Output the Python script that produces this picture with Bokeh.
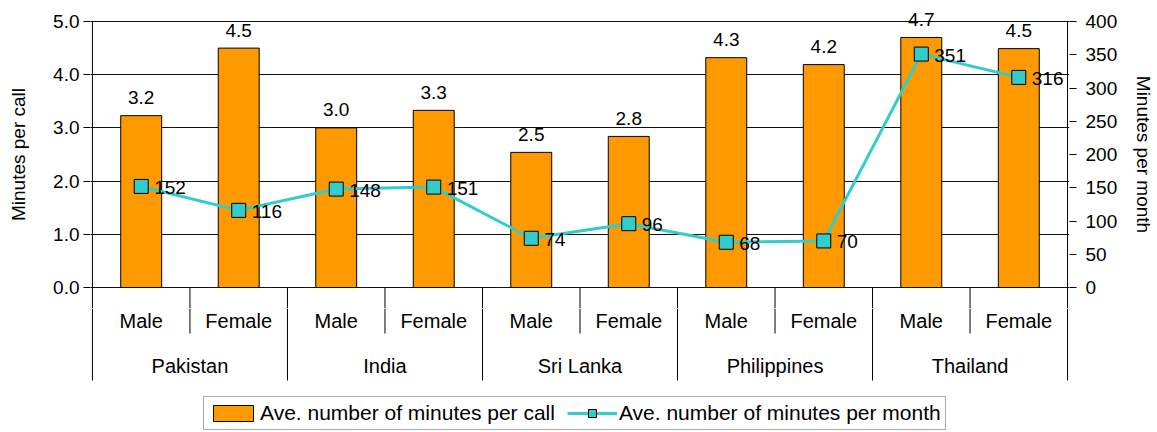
import numpy as np
from bokeh.plotting import figure
from bokeh.models import (Range1d, LinearAxis, FixedTicker, PrintfTickFormatter,
                          Legend, LegendItem)
from bokeh.layouts import column
from bokeh.embed import file_html
from bokeh.resources import INLINE
from bokeh.core.properties import value

# ---------------- data ----------------
countries = ["Pakistan", "India", "Sri Lanka", "Philippines", "Thailand"]
sexes = ["Male", "Female"]
minutes_per_call = [3.23, 4.50, 3.00, 3.33, 2.54, 2.84, 4.32, 4.19, 4.70, 4.49]
minutes_per_month = [152, 116, 148, 151, 74, 96, 68, 70, 351, 316]
left_ticks = [0, 1, 2, 3, 4, 5]
right_ticks = [0, 50, 100, 150, 200, 250, 300, 350, 400]
series_names = ["Ave. number of minutes per call", "Ave. number of minutes per month"]
axis_titles = ["Minutes per call", "Minutes per month"]

# ---------------- layout constants ----------------
FONT = "Liberation Sans"
BAR_COLOR = "#FF9900"
LINE_COLOR = "#33CCCC"
W = 1157
H1 = 308
H2 = 124
PPU = 53.2          # px per left-axis unit
ZERO_PX = 287       # y=0 position inside figure 1
TOP_PX = 21         # y=5 position inside figure 1
Y_START = -(H1 - ZERO_PX) / PPU
Y_END = left_ticks[-1] + TOP_PX / PPU
RATIO = right_ticks[-1] / left_ticks[-1]
MB_L, MB_R = 90, 87

n_groups = len(countries) * len(sexes)
xs = np.arange(n_groups) + 0.5
sex_labels = [s for c in countries for s in sexes]
country_x = np.arange(len(countries)) * len(sexes) + len(sexes) / 2
major_b = np.arange(0, n_groups + 1, len(sexes))
minor_b = np.arange(1, n_groups, len(sexes))

x_range = Range1d(-0.02, n_groups + 0.02)

# ---------------- main figure ----------------
p1 = figure(width=W, height=H1, x_range=x_range, y_range=Range1d(Y_START, Y_END),
            output_backend="svg", toolbar_location=None, x_axis_location=None,
            min_border_left=MB_L, min_border_right=MB_R, min_border_top=0, min_border_bottom=0)
p1.outline_line_color = None
p1.background_fill_color = "white"
p1.xgrid.visible = False
p1.ygrid.ticker = FixedTicker(ticks=left_ticks)
p1.ygrid.grid_line_color = "#111111"
p1.ygrid.grid_line_width = 1

la = p1.left[0]
la.ticker = FixedTicker(ticks=left_ticks)
la.formatter = PrintfTickFormatter(format="%.1f")
la.axis_line_color = None
la.major_tick_in = 0
la.major_tick_out = 7
la.major_tick_line_color = "black"
la.minor_tick_line_color = None
la.major_label_standoff = 4
la.major_label_text_font = FONT
la.major_label_text_font_size = "19px"
la.major_label_text_color = "black"
la.axis_label = axis_titles[0]
la.axis_label_text_font = FONT
la.axis_label_text_font_size = "19px"
la.axis_label_text_font_style = "normal"
la.axis_label_text_color = "black"
la.axis_label_standoff = 21

p1.extra_y_ranges = {"r": Range1d(Y_START * RATIO, Y_END * RATIO)}
ra = LinearAxis(y_range_name="r", ticker=FixedTicker(ticks=right_ticks))
ra.axis_line_color = None
ra.major_tick_in = 0
ra.major_tick_out = 7
ra.major_tick_line_color = "black"
ra.minor_tick_line_color = None
ra.major_label_standoff = 9
ra.major_label_text_font = FONT
ra.major_label_text_font_size = "19px"
ra.major_label_text_color = "black"
ra.axis_label = axis_titles[1]
ra.axis_label_text_font = FONT
ra.axis_label_text_font_size = "19px"
ra.axis_label_text_font_style = "normal"
ra.axis_label_text_color = "black"
ra.axis_label_standoff = 13
p1.add_layout(ra, "right")

# plot-area borders and category separators (upper part)
p1.segment(x0=[0, n_groups], y0=[0, 0], x1=[0, n_groups], y1=[left_ticks[-1]] * 2,
           line_color="black", line_width=1)
p1.segment(x0=np.arange(0, n_groups + 1), y0=0, x1=np.arange(0, n_groups + 1), y1=Y_START,
           line_color="black", line_width=1)

bars = p1.vbar(x=xs, top=minutes_per_call, bottom=0, width=0.42,
               fill_color=BAR_COLOR, line_color="black", line_width=1)
p1.text(x=xs, y=minutes_per_call, text=[f"{v:.1f}" for v in minutes_per_call],
        text_align="center", text_baseline="alphabetic", y_offset=-18,
        text_font=value(FONT), text_font_size="19px", text_color="black")

ln = p1.line(x=xs, y=minutes_per_month, y_range_name="r", line_color=LINE_COLOR, line_width=3)
pts = p1.scatter(x=xs, y=minutes_per_month, y_range_name="r", marker="square", size=14,
                 fill_color=LINE_COLOR, line_color="black", line_width=1)
p1.text(x=xs, y=minutes_per_month, text=[str(v) for v in minutes_per_month], y_range_name="r",
        text_align="left", text_baseline="middle", x_offset=13, y_offset=1,
        text_font=value(FONT), text_font_size="19px", text_color="black")

# ---------------- category axis + legend figure ----------------
p2 = figure(width=W, height=H2, x_range=x_range, y_range=Range1d(H2, 0),
            output_backend="svg", toolbar_location=None,
            x_axis_location=None, y_axis_location=None,
            min_border_left=MB_L, min_border_right=MB_R, min_border_top=0, min_border_bottom=0)
p2.outline_line_color = None
p2.xgrid.visible = False
p2.ygrid.visible = False

p2.segment(x0=minor_b, y0=0, x1=minor_b, y1=25, line_color="black", line_width=1)
p2.segment(x0=major_b, y0=0, x1=major_b, y1=72, line_color="black", line_width=1)
p2.text(x=xs, y=12, text=sex_labels, text_align="center", text_baseline="middle",
        text_font=value(FONT), text_font_size="20px", text_color="black")
p2.text(x=country_x, y=57, text=countries, text_align="center", text_baseline="middle",
        text_font=value(FONT), text_font_size="20px", text_color="black")

# legend proxies (a single undrawable point so the legend has styles to use)
lb = p2.vbar(x=[np.nan], top=[np.nan], width=0.42, fill_color=BAR_COLOR, line_color="black")
ll = p2.line(x=[np.nan], y=[np.nan], line_color=LINE_COLOR, line_width=3)
lp = p2.scatter(x=[np.nan], y=[np.nan], marker="square", size=14,
                fill_color=LINE_COLOR, line_color="black")

legend = Legend(items=[LegendItem(label=series_names[0], renderers=[lb]),
                       LegendItem(label=series_names[1], renderers=[ll, lp])],
                location=(113, 2), orientation="horizontal",
                glyph_width=50, glyph_height=20, label_standoff=2, spacing=12,
                padding=4, margin=0,
                label_text_font=FONT, label_text_font_size="21px", label_text_color="black",
                border_line_color="#555555", border_line_width=1,
                background_fill_color="white", background_fill_alpha=1)
p2.add_layout(legend)

layout = column(p1, p2, spacing=0)
open("out.html", "w").write(file_html(layout, INLINE))
